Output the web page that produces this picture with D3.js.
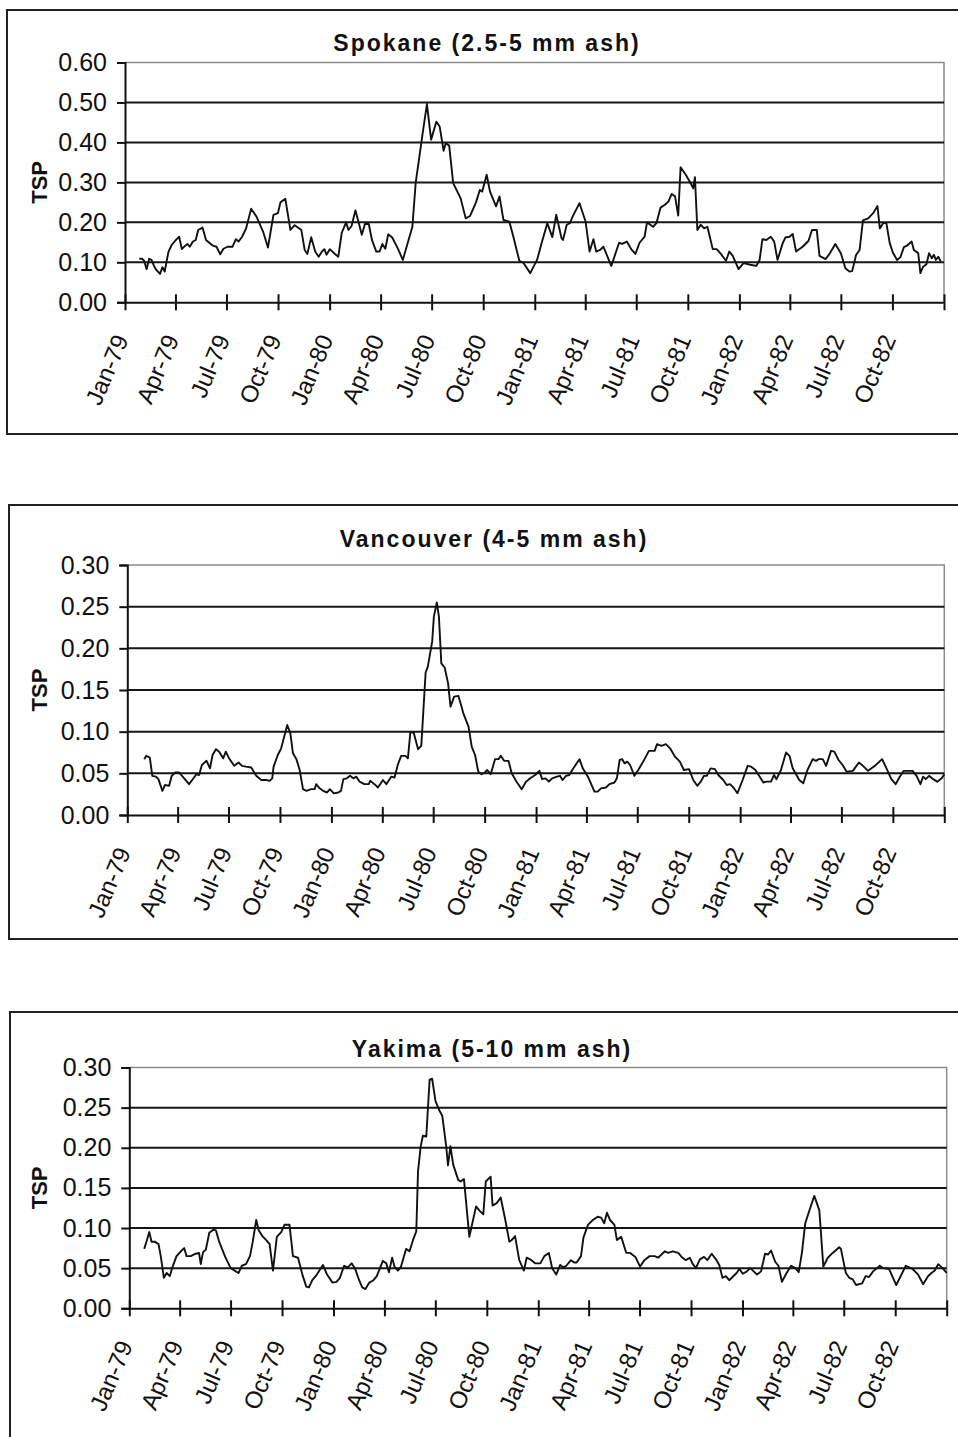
<!DOCTYPE html>
<html>
<head>
<meta charset="utf-8">
<script src="https://cdn.jsdelivr.net/npm/d3@7"></script>
<style>
  html, body { margin: 0; padding: 0; background: #fff; }
  svg { display: block; font-family: "Liberation Sans", Arial, sans-serif; }
</style>
</head>
<body>
<svg id="chart" width="958" height="1437"></svg>
<script>
// Sample times are months elapsed since 1 Jan 1979 (decimal), TSP values alongside.
const spokaneMonth = [0.82,0.98,1.11,1.27,1.43,1.58,1.74,1.89,2.11,2.25,2.38,2.60,2.79,3.03,3.22,3.38,3.56,3.71,3.85,4.04,4.20,4.34,4.59,4.79,4.98,5.18,5.41,5.63,5.82,6.06,6.35,6.54,6.70,6.90,7.13,7.42,7.72,8.11,8.40,8.73,8.99,9.14,9.42,9.71,9.96,10.35,10.55,10.71,10.94,11.17,11.37,11.56,11.70,11.82,12.01,12.31,12.50,12.70,12.95,13.09,13.28,13.52,13.73,13.91,14.10,14.32,14.50,14.75,14.94,15.10,15.28,15.45,15.69,16.02,16.31,16.86,17.05,17.44,17.72,17.97,18.27,18.46,18.69,18.81,19.01,19.24,19.67,19.96,20.22,20.57,20.80,20.94,21.20,21.39,21.74,21.94,22.17,22.52,22.76,23.11,23.34,23.74,24.13,
  24.42,24.72,25.01,25.26,25.60,25.69,25.93,26.12,26.28,26.67,27.02,27.26,27.49,27.65,27.88,28.08,28.53,28.98,29.17,29.44,29.70,29.95,30.19,30.48,30.62,30.97,31.16,31.40,31.65,31.85,32.04,32.24,32.43,32.57,32.88,33.21,33.31,33.41,33.55,33.74,33.94,34.13,34.45,34.68,34.93,35.23,35.42,35.62,35.95,36.24,36.63,36.97,37.18,37.36,37.61,37.90,38.10,38.29,38.59,38.74,38.98,39.17,39.37,39.76,40.11,40.31,40.58,40.74,41.09,41.32,41.67,42.00,42.26,42.49,42.65,42.88,43.08,43.27,43.57,43.86,44.11,44.25,44.45,44.64,44.84,45.03,45.27,45.46,45.66,45.81,46.11,46.24,46.50,46.63,46.79,46.99,47.14,47.30,47.42,47.53,47.67,47.81];
const spokaneTSP = [0.109,0.109,0.104,0.083,0.109,0.106,0.091,0.081,0.071,0.088,0.077,0.127,0.144,0.156,0.164,0.133,0.141,0.146,0.139,0.152,0.156,0.181,0.187,0.156,0.149,0.142,0.139,0.120,0.134,0.139,0.139,0.158,0.152,0.164,0.185,0.234,0.215,0.177,0.137,0.219,0.223,0.250,0.259,0.181,0.193,0.181,0.131,0.121,0.163,0.127,0.114,0.127,0.133,0.119,0.133,0.121,0.114,0.174,0.200,0.181,0.191,0.230,0.198,0.169,0.196,0.196,0.156,0.127,0.127,0.146,0.134,0.170,0.162,0.135,0.106,0.189,0.298,0.415,0.496,0.407,0.452,0.440,0.379,0.398,0.392,0.298,0.260,0.210,0.216,0.250,0.281,0.277,0.319,0.277,0.240,0.265,0.206,0.202,0.164,0.104,0.099,0.073,0.106,
  0.152,0.198,0.163,0.219,0.160,0.156,0.194,0.198,0.215,0.248,0.202,0.127,0.158,0.127,0.131,0.139,0.091,0.149,0.146,0.152,0.133,0.121,0.149,0.164,0.200,0.189,0.198,0.237,0.244,0.252,0.271,0.265,0.217,0.338,0.319,0.294,0.285,0.313,0.181,0.194,0.185,0.189,0.133,0.133,0.121,0.104,0.127,0.116,0.083,0.098,0.094,0.091,0.106,0.158,0.156,0.164,0.152,0.106,0.148,0.162,0.164,0.171,0.127,0.139,0.154,0.181,0.181,0.116,0.108,0.121,0.146,0.123,0.085,0.077,0.078,0.119,0.131,0.205,0.210,0.223,0.241,0.185,0.198,0.198,0.148,0.124,0.106,0.113,0.138,0.141,0.152,0.131,0.123,0.073,0.089,0.095,0.123,0.110,0.119,0.106,0.114,0.102];

const vancouverMonth = [0.98,1.10,1.33,1.49,1.72,1.88,2.12,2.27,2.51,2.66,2.86,3.09,3.39,3.68,3.98,4.11,4.27,4.43,4.70,4.90,5.05,5.25,5.44,5.68,5.84,6.03,6.33,6.58,6.78,7.01,7.31,7.60,7.89,8.19,8.38,8.54,8.62,8.87,9.07,9.42,9.60,9.75,9.95,10.14,10.34,10.54,10.83,11.03,11.12,11.32,11.52,11.75,11.91,12.14,12.40,12.55,12.69,12.89,13.08,13.28,13.47,13.67,13.96,14.22,14.30,14.55,14.75,15.04,15.24,15.53,15.73,15.92,16.12,16.37,16.51,16.65,16.84,17.10,17.29,17.55,17.68,17.94,18.04,18.21,18.33,18.47,18.66,18.86,19.00,19.21,19.45,19.58,19.74,20.04,20.23,20.43,20.62,20.82,21.01,21.15,21.35,21.60,21.80,21.93,22.13,22.39,22.58,22.87,23.17,23.42,
  23.66,23.95,24.19,24.35,24.54,24.74,24.93,25.23,25.42,25.58,25.81,26.01,26.21,26.60,26.79,27.09,27.48,27.67,27.87,28.16,28.36,28.65,28.79,28.95,29.10,29.24,29.40,29.57,29.83,30.08,30.42,30.67,31.00,31.14,31.40,31.65,31.89,32.18,32.47,32.71,33.02,33.26,33.49,33.69,33.88,34.04,34.27,34.53,34.73,35.02,35.22,35.41,35.61,35.84,36.14,36.43,36.63,36.88,37.17,37.37,37.57,37.86,38.05,38.19,38.45,38.74,38.94,39.13,39.52,39.76,40.01,40.31,40.50,40.66,40.89,41.09,41.38,41.58,41.83,42.07,42.30,42.66,43.01,43.24,43.54,43.93,44.36,44.62,44.91,45.16,45.40,45.63,46.14,46.38,46.61,46.77,46.93,47.12,47.36,47.59,47.85,48.00];
const vancouverTSP = [0.067,0.071,0.069,0.047,0.046,0.043,0.029,0.036,0.035,0.047,0.051,0.051,0.044,0.037,0.045,0.049,0.048,0.060,0.065,0.056,0.072,0.079,0.076,0.068,0.076,0.068,0.059,0.063,0.059,0.058,0.057,0.047,0.042,0.042,0.041,0.044,0.058,0.072,0.080,0.108,0.098,0.074,0.067,0.054,0.031,0.029,0.031,0.031,0.037,0.032,0.029,0.027,0.031,0.026,0.027,0.029,0.043,0.044,0.047,0.044,0.046,0.040,0.037,0.037,0.041,0.037,0.033,0.042,0.037,0.046,0.045,0.060,0.071,0.071,0.068,0.099,0.099,0.079,0.083,0.171,0.178,0.208,0.238,0.255,0.238,0.182,0.177,0.158,0.130,0.142,0.143,0.134,0.122,0.106,0.082,0.072,0.052,0.049,0.051,0.054,0.049,0.067,0.067,0.071,0.065,0.065,0.050,0.040,0.031,0.040,
  0.044,0.048,0.053,0.043,0.044,0.040,0.044,0.046,0.047,0.042,0.047,0.048,0.055,0.067,0.056,0.046,0.028,0.028,0.032,0.033,0.037,0.039,0.044,0.066,0.067,0.062,0.064,0.060,0.047,0.055,0.067,0.077,0.077,0.085,0.083,0.085,0.080,0.070,0.064,0.054,0.055,0.042,0.035,0.040,0.047,0.047,0.056,0.055,0.048,0.042,0.036,0.037,0.033,0.026,0.042,0.059,0.058,0.054,0.045,0.039,0.040,0.040,0.048,0.043,0.054,0.075,0.071,0.056,0.042,0.038,0.054,0.067,0.065,0.067,0.067,0.059,0.077,0.076,0.066,0.060,0.052,0.053,0.063,0.059,0.053,0.059,0.067,0.056,0.043,0.037,0.046,0.053,0.053,0.047,0.037,0.046,0.043,0.047,0.043,0.040,0.044,0.049];

const yakimaMonth = [0.86,1.02,1.17,1.31,1.51,1.76,1.90,2.09,2.25,2.43,2.58,2.82,3.07,3.27,3.41,3.66,3.95,4.15,4.25,4.38,4.54,4.74,4.97,5.13,5.32,5.68,6.01,6.30,6.46,6.65,6.89,7.12,7.28,7.48,7.63,7.83,8.06,8.26,8.46,8.69,8.95,9.14,9.43,9.63,9.92,10.18,10.41,10.57,10.77,11.04,11.39,11.63,11.94,12.17,12.37,12.61,12.82,13.05,13.25,13.51,13.70,13.90,14.13,14.37,14.56,14.91,15.11,15.27,15.46,15.60,15.80,15.99,16.28,16.48,16.68,16.87,16.97,17.13,17.26,17.46,17.66,17.81,18.01,18.24,18.40,18.63,18.73,18.87,19.03,19.32,19.46,19.65,19.96,20.36,20.59,20.79,20.94,21.22,21.33,21.57,21.80,22.06,22.31,22.45,22.65,22.90,23.17,23.33,
  23.53,23.82,24.12,24.35,24.61,24.80,25.04,25.29,25.49,25.68,25.98,26.17,26.31,26.56,26.70,26.96,27.25,27.54,27.74,27.93,28.09,28.27,28.52,28.66,28.91,29.21,29.44,29.75,30.03,30.28,30.58,30.87,31.07,31.46,31.65,31.91,32.24,32.44,32.69,32.93,33.08,33.28,33.51,33.75,33.94,34.20,34.45,34.65,34.84,35.04,35.23,35.47,35.66,35.82,36.02,36.25,36.45,36.60,36.84,37.08,37.33,37.53,37.72,37.98,38.17,38.37,38.64,38.90,39.15,39.35,39.54,39.74,39.97,40.27,40.56,40.79,41.05,41.34,41.73,41.83,42.12,42.32,42.52,42.71,43.06,43.26,43.46,43.69,44.08,44.28,44.63,45.06,45.61,46.00,46.33,46.63,46.92,47.12,47.31,47.51,47.76,48.00];
const yakimaTSP = [0.074,0.085,0.095,0.083,0.083,0.080,0.065,0.038,0.044,0.040,0.051,0.065,0.071,0.075,0.065,0.065,0.068,0.069,0.055,0.070,0.073,0.094,0.098,0.097,0.083,0.064,0.050,0.046,0.044,0.053,0.055,0.065,0.083,0.110,0.097,0.090,0.085,0.080,0.047,0.089,0.095,0.104,0.104,0.065,0.063,0.042,0.027,0.026,0.035,0.042,0.054,0.042,0.032,0.033,0.038,0.053,0.051,0.056,0.050,0.035,0.026,0.024,0.032,0.035,0.040,0.059,0.056,0.045,0.063,0.052,0.047,0.052,0.074,0.071,0.085,0.096,0.171,0.202,0.215,0.214,0.285,0.286,0.258,0.246,0.240,0.201,0.178,0.202,0.179,0.160,0.158,0.161,0.089,0.127,0.121,0.117,0.158,0.164,0.128,0.131,0.138,0.111,0.083,0.085,0.090,0.060,0.047,0.063,
  0.061,0.056,0.056,0.065,0.069,0.050,0.042,0.054,0.051,0.053,0.060,0.057,0.057,0.065,0.088,0.104,0.110,0.114,0.113,0.106,0.119,0.110,0.104,0.085,0.089,0.069,0.069,0.064,0.052,0.060,0.065,0.065,0.063,0.071,0.069,0.071,0.069,0.064,0.060,0.063,0.056,0.050,0.061,0.064,0.060,0.068,0.061,0.054,0.038,0.040,0.035,0.040,0.044,0.049,0.043,0.046,0.050,0.047,0.042,0.046,0.068,0.067,0.072,0.058,0.053,0.033,0.044,0.053,0.050,0.045,0.069,0.106,0.121,0.140,0.122,0.052,0.063,0.069,0.076,0.074,0.044,0.038,0.036,0.029,0.031,0.040,0.039,0.046,0.053,0.050,0.049,0.029,0.053,0.049,0.042,0.030,0.040,0.044,0.047,0.055,0.050,0.044];

const panelTitles = ["Spokane (2.5-5 mm ash)", "Vancouver (4-5 mm ash)", "Yakima (5-10 mm ash)"];
const yMaxima = [0.60, 0.30, 0.30];
const yTickSteps = [0.10, 0.05, 0.05];
const axisLabel = "TSP";

// Convert a decimal month offset from Jan 1979 into a calendar date.
const origin = new Date(1979, 0, 1);
function monthToDate(m) {
  const i = Math.floor(m);
  const a = d3.timeMonth.offset(origin, i);
  const b = d3.timeMonth.offset(origin, i + 1);
  return new Date(+a + (m - i) * (b - a));
}

const series = [
  { months: spokaneMonth, values: spokaneTSP },
  { months: vancouverMonth, values: vancouverTSP },
  { months: yakimaMonth, values: yakimaTSP }
];

// Frame geometry for each stacked panel.
const layout = [
  { boxX: 7,  boxY: 10,   boxH: 424, x0: 125,   x1: 944,   y0: 62.5,   y1: 302.3,  titleX: 487, titleY: 51 },
  { boxX: 9,  boxY: 505,  boxH: 434, x0: 127.3, x1: 944.3, y0: 565,    y1: 815,    titleX: 494, titleY: 547 },
  { boxX: 10, boxY: 1012, boxH: 440, x0: 129.3, x1: 946.7, y0: 1067.5, y1: 1308.3, titleX: 492, titleY: 1057 }
];

const svg = d3.select("#chart");
const fmtTick = d3.timeFormat("%b-%y");
const fmtVal = d3.format(".2f");
const domainEnd = new Date(1983, 0, 1);

series.forEach((s, k) => {
  const L = layout[k];
  const g = svg.append("g");

  // outer chart frame
  g.append("rect")
    .attr("x", L.boxX).attr("y", L.boxY)
    .attr("width", 970 - L.boxX).attr("height", L.boxH)
    .attr("fill", "none").attr("stroke", "#222").attr("stroke-width", 2);

  const x = d3.scaleTime().domain([origin, domainEnd]).range([L.x0, L.x1]);
  const y = d3.scaleLinear().domain([0, yMaxima[k]]).range([L.y1, L.y0]);
  const yTicks = d3.range(0, Math.round(yMaxima[k] / yTickSteps[k]) + 1).map(i => i * yTickSteps[k]);

  // plot-area border (top and right)
  g.append("path")
    .attr("d", `M${L.x0},${L.y0}H${L.x1}V${L.y1}`)
    .attr("fill", "none").attr("stroke", "#8c8c8c").attr("stroke-width", 1.5);

  // horizontal gridlines
  g.append("g").selectAll("line")
    .data(yTicks.filter(v => v > 0 && v < yMaxima[k] - 1e-9))
    .join("line")
    .attr("x1", L.x0).attr("x2", L.x1)
    .attr("y1", d => y(d)).attr("y2", d => y(d))
    .attr("stroke", "#161616").attr("stroke-width", 2);

  // y axis
  const yAxis = g.append("g")
    .attr("transform", `translate(${L.x0},0)`)
    .call(d3.axisLeft(y).tickValues(yTicks).tickFormat(fmtVal).tickSize(8).tickPadding(10));
  yAxis.select(".domain").attr("stroke", "#111").attr("stroke-width", 2);
  yAxis.selectAll(".tick line").attr("stroke", "#111").attr("stroke-width", 2);
  yAxis.selectAll(".tick text")
    .attr("font-size", 25).attr("fill", "#111")
    .attr("font-family", "Liberation Sans, Arial, sans-serif");

  // x axis with crossing ticks at quarter starts
  const xTicks = d3.timeMonth.every(3).range(origin, d3.timeDay.offset(domainEnd, 1));
  const xAxis = g.append("g")
    .attr("transform", `translate(0,${L.y1})`)
    .call(d3.axisBottom(x).tickValues(xTicks).tickFormat("").tickSizeOuter(0).tickSizeInner(8));
  xAxis.select(".domain").attr("stroke", "#111").attr("stroke-width", 2);
  xAxis.selectAll(".tick line").attr("y1", -8).attr("y2", 8).attr("stroke", "#111").attr("stroke-width", 2);

  g.append("g").selectAll("text")
    .data(xTicks.filter(d => d < domainEnd))
    .join("text")
    .attr("transform", d => `translate(${x(d) + 4},${L.y1 + 37}) rotate(-67)`)
    .attr("text-anchor", "end")
    .attr("font-size", 24).attr("fill", "#111")
    .text(d => fmtTick(d));

  // y axis title
  g.append("text")
    .attr("transform", `translate(47,${(L.y0 + L.y1) / 2}) rotate(-90)`)
    .attr("text-anchor", "middle")
    .attr("font-size", 22).attr("font-weight", "bold").attr("fill", "#111")
    .text(axisLabel);

  // panel title
  g.append("text")
    .attr("x", L.titleX).attr("y", L.titleY)
    .attr("text-anchor", "middle")
    .attr("font-size", 23).attr("font-weight", "bold").attr("fill", "#111")
    .attr("letter-spacing", 2.0)
    .text(panelTitles[k]);

  // TSP series line
  const pts = s.months.map((m, i) => [monthToDate(m), s.values[i]]);
  g.append("path")
    .datum(pts)
    .attr("d", d3.line().x(d => x(d[0])).y(d => y(d[1])))
    .attr("fill", "none").attr("stroke", "#111").attr("stroke-width", 1.9)
    .attr("stroke-linejoin", "round");
});
</script>
</body>
</html>
